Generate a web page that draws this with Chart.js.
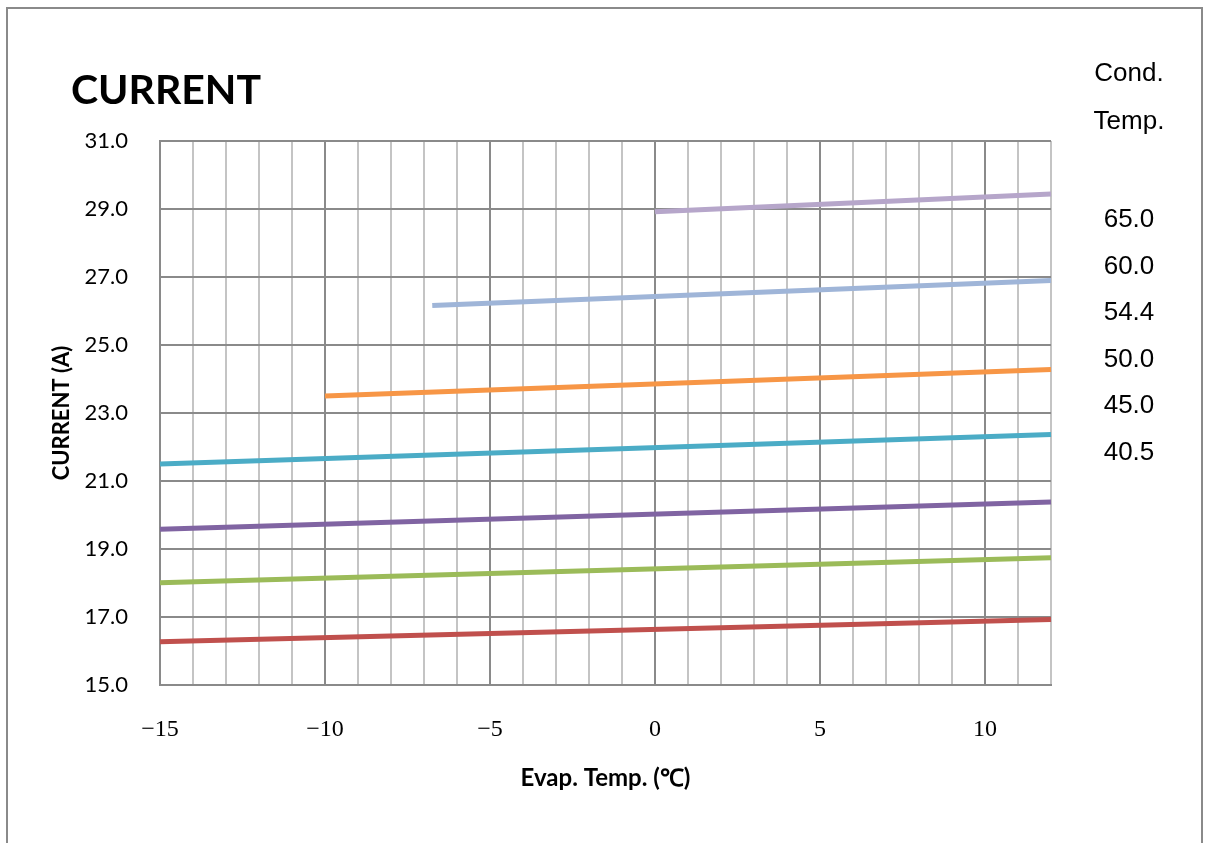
<!DOCTYPE html>
<html>
<head>
<meta charset="utf-8">
<script src="https://cdn.jsdelivr.net/npm/chart.js@4/dist/chart.umd.min.js"></script>
<style>
body{margin:0;background:#fff;}
#wrap{position:relative;width:1208px;height:843px;}
#frame{position:absolute;left:6px;top:7px;width:1197px;height:900px;border:2px solid #8a8a8a;box-sizing:border-box;}
canvas{position:absolute;left:0;top:0;}
</style>
</head>
<body>
<div id="wrap">
<div id="frame"></div>
<canvas id="myChart" width="1208" height="843"></canvas>
</div>
<script>
// evap temp start/end for each cond. temp line, and current read at those points
var seriesNames=["40.5","45.0","50.0","54.4","60.0","65.0","70.0"];
var startX=[-15,-15,-15,-15,-10,-6.75,0];
var endX=[12,12,12,12,12,12,12];
var startY=[16.27,18.01,19.58,21.50,23.50,26.16,28.92];
var endY=[16.93,18.74,20.38,22.37,24.28,26.90,29.44];
var colors=["#C0504D","#9BBB59","#8064A2","#4BACC6","#F79646","#9FB5D8","#B6A6CA"];
var legendTitle=["Cond.","Temp."];
var legendValues=["65.0","60.0","54.4","50.0","45.0","40.5"];
var xTicks=[-15,-10,-5,0,5,10];

var datasets=[];
for(var i=0;i<seriesNames.length;i++){
   datasets.push({
      label:seriesNames[i],
      data:[{x:startX[i],y:startY[i]},{x:endX[i],y:endY[i]}],
      borderColor:colors[i],
      borderWidth:5,
      pointRadius:0,
      tension:0,
      clip:false
   });
}

var textPlugin={
   id:'texts',
   afterDraw:function(chart){
      var ctx=chart.ctx;
      ctx.save();
      ctx.fillStyle="#000";
      ctx.font="bold 41px Lato";
      ctx.textAlign="left";
      ctx.textBaseline="alphabetic";
      ctx.fillText("CURRENT",71,104);
      ctx.font="26px 'Liberation Sans'";
      ctx.textAlign="center";
      ctx.textBaseline="middle";
      ctx.fillText(legendTitle[0],1129,74);
      ctx.fillText(legendTitle[1],1129,122);
      for(var i=0;i<legendValues.length;i++){
         ctx.fillText(legendValues[i],1129,220+i*46.5);
      }
      ctx.restore();
   }
};

const config={
   type:'line',
   data:{datasets:datasets},
   options:{
      responsive:false,
      animation:false,
      layout:{padding:{left:0,right:157,top:141,bottom:0}},
      plugins:{legend:{display:false},tooltip:{enabled:false}},
      scales:{
         x:{
            type:'linear',
            min:-15,
            max:12,
            afterFit:function(s){s.height=158;},
            afterBuildTicks:function(s){
               var t=[];
               for(var v=-15;v<=12;v++){t.push({value:v});}
               s.ticks=t;
            },
            ticks:{
               autoSkip:false,
               maxRotation:0,
               padding:30,
               color:"#000",
               font:{family:"'Liberation Serif'",size:24},
               callback:function(v){
                  if(xTicks.indexOf(v)<0){return "";}
                  return v<0?"\u2212"+Math.abs(v):""+v;
               }
            },
            grid:{
               drawTicks:false,
               lineWidth:2,
               color:function(c){
                  if(c.tick&&xTicks.indexOf(c.tick.value)>=0){return "#8a8a8a";}
                  return "#c4c4c4";
               }
            },
            border:{color:"#8a8a8a",width:2},
            title:{
               display:true,
               text:"Evap. Temp. (\u2103)",
               color:"#000",
               font:{family:"Lato",size:24,weight:"bold"},
               padding:{top:0,bottom:50}
            }
         },
         y:{
            min:15,
            max:31,
            afterFit:function(s){s.width=160;},
            ticks:{
               stepSize:2,
               padding:32,
               color:"#000",
               font:{family:"Lato",size:22},
               callback:function(v){return v.toFixed(1);}
            },
            grid:{drawTicks:false,lineWidth:2,color:"#8a8a8a"},
            border:{color:"#8a8a8a",width:2},
            title:{
               display:true,
               text:"CURRENT (A)",
               color:"#000",
               font:{family:"Lato",size:22,weight:"bold"},
               padding:{top:49,bottom:0}
            }
         }
      }
   },
   plugins:[textPlugin]
};
const myChart=new Chart(document.getElementById('myChart'),config);
</script>
</body>
</html>
